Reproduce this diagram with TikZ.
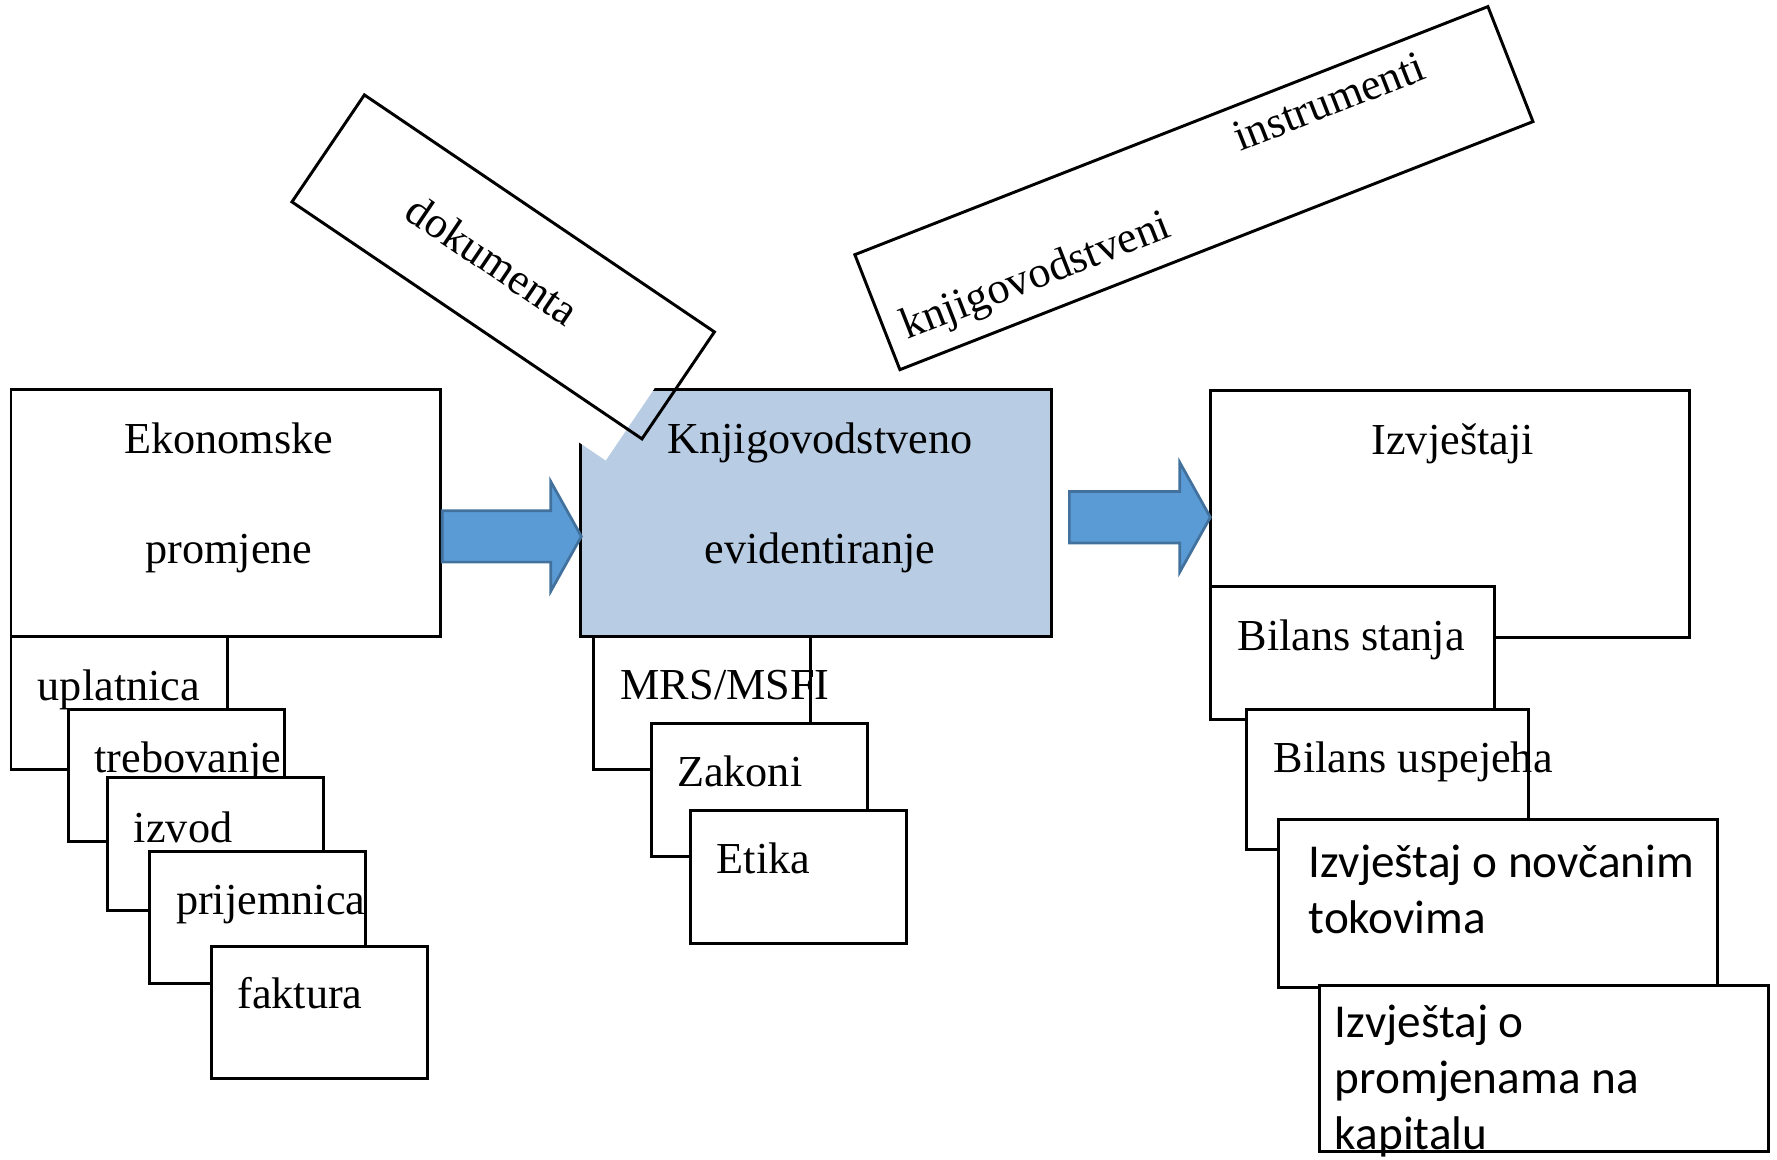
\documentclass[tikz,border=0pt]{standalone}
\usepackage{fontspec}
\setmainfont{Liberation Serif}
\newfontfamily\calfont{Carlito}
\usetikzlibrary{calc}

\newlength{\du}
\setlength{\du}{0.01cm}

\definecolor{boxblue}{RGB}{184,204,228}
\definecolor{arrowfill}{RGB}{91,155,213}
\definecolor{arrowline}{RGB}{65,113,156}

\newcommand{\serifsize}{\fontsize{11.1}{13.5}\selectfont}
\newcommand{\sanssize}{\calfont\fontsize{11.85}{14.1}\selectfont}

% block arrow from tail to tip
\newcommand{\fatarrow}[2]{%
\draw[flowarrow] ($(#1)+(0\du,-22.7\du)$)--($(#2)+(-27\du,-22.7\du)$)--($(#2)+(-27\du,-48.4\du)$)--(#2)--($(#2)+(-27\du,48.4\du)$)--($(#2)+(-27\du,22.7\du)$)--($(#1)+(0\du,22.7\du)$)--cycle;}

\tikzset{
  docbox/.style={draw, fill=white, line width=2.6\du, anchor=north west, inner sep=0pt},
  smallbox/.style={docbox, minimum width=190.8\du, minimum height=116.8\du},
  tiltbox/.style={draw, line width=2.6\du, inner sep=0pt, font=\serifsize},
  lbl/.style={inner sep=0pt, anchor=base west, font=\serifsize},
  sanslbl/.style={inner sep=0pt, anchor=base west, align=left, font=\sanssize},
  flowarrow/.style={fill=arrowfill, draw=arrowline, line width=2.4\du, line join=miter},
}

\begin{document}
\begin{tikzpicture}
\pgftransformxscale{1.000000}
\pgftransformyscale{-1.000000}
\useasboundingbox (0\du,0\du) rectangle (1568\du,1023\du);
% ekonomske promjene
\node[docbox, minimum width=379.2\du, minimum height=218.3\du] (ekon) at (8.4\du,342.4\du) {};
\node[lbl, anchor=base, align=center, font={\fontsize{11.1}{27.6}\selectfont}] (ekontxt) at (202\du,497\du) {Ekonomske\\promjene};
\node[smallbox] (upl) at (8.4\du,560.7\du) {};
\node[lbl] (upltxt) at (32.7\du,618\du) {uplatnica};
\node[smallbox] (treb) at (59.1\du,624.7\du) {};
\node[lbl] (trebtxt) at (82.8\du,682\du) {trebovanje};
\node[smallbox] (izvod) at (93.5\du,685\du) {};
\node[lbl] (izvodtxt) at (117.5\du,743\du) {izvod};
\node[smallbox] (prij) at (130.3\du,749.7\du) {};
\node[lbl] (prijtxt) at (154.7\du,807\du) {prijemnica};
\node[smallbox] (fakt) at (185\du,833.6\du) {};
\node[lbl] (fakttxt) at (208.7\du,890\du) {faktura};
% knjigovodstveno evidentiranje
\node[docbox, fill=boxblue, minimum width=415.2\du, minimum height=218.1\du] (knjig) at (511.3\du,342.5\du) {};
\node[lbl, anchor=base, align=center, font={\fontsize{11.1}{27.4}\selectfont}] (knjigtxt) at (723.5\du,496.9\du) {Knjigovodstveno\\evidentiranje};
\node[smallbox] (mrs) at (522.8\du,560.6\du) {};
\node[lbl] (mrstxt) at (546.9\du,617.6\du) {MRS/MSFI};
\node[smallbox] (zak) at (573.4\du,637.3\du) {};
\node[lbl] (zaktxt) at (596.7\du,694.3\du) {Zakoni};
\node[smallbox] (etika) at (607.8\du,714\du) {};
\node[lbl] (etikatxt) at (631.9\du,771.1\du) {Etika};
% dokumenta
\node[fill=white, inner sep=0pt, rotate=-34.1, minimum width=373\du, minimum height=114\du] (dokshade) at (412\du,254.5\du) {};
\node[tiltbox, rotate=-34.1, minimum width=373\du, minimum height=114\du] (dok) at (444\du,235.5\du) {dokumenta\hspace*{22\du}};
% izvjestaji
\node[docbox, minimum width=423\du, minimum height=217.8\du] (izv) at (1066.5\du,343.2\du) {};
\node[lbl, anchor=base] (izvtxt) at (1281.8\du,401\du) {Izvještaji};
\node[docbox, minimum width=251.1\du, minimum height=117.5\du] (bst) at (1066.5\du,515.9\du) {};
\node[lbl] (bsttxt) at (1091.3\du,574.2\du) {Bilans stanja};
\node[docbox, minimum width=248.5\du, minimum height=123.6\du] (bus) at (1098.9\du,624.6\du) {};
\node[lbl] (bustxt) at (1123.3\du,681.6\du) {Bilans uspejeha};
\node[docbox, minimum width=387.8\du, minimum height=148.1\du] (novc) at (1126.7\du,721.9\du) {};
\node[sanslbl] (novctxt) at (1154\du,824\du) {Izvještaj o novčanim\\tokovima};
\node[docbox, minimum width=395.5\du, minimum height=146.8\du] (kap) at (1163.3\du,867.9\du) {};
\node[sanslbl] (kaptxt) at (1177.2\du,1014.5\du) {Izvještaj o\\promjenama na\\kapitalu};
% knjigovodstveni instrumenti
\node[tiltbox, fill=white, rotate=21.4, minimum width=600\du, minimum height=109\du, align=left, text width=568\du] (instr) at (1053.5\du,166\du) {\hspace*{334\du}instrumenti\\knjigovodstveni};
% arrows
\coordinate (a1) at (0\du,473.3\du);
\coordinate (a2) at (0\du,456.4\du);
\coordinate (a1tail) at (ekon.east |- a1);
\coordinate (a1tip) at ($(knjig.west |- a1)+(1.7\du,0\du)$);
\coordinate (a2tail) at ($(knjig.east |- a2)+(14.5\du,0\du)$);
\coordinate (a2tip) at ($(izv.west |- a2)+(1.5\du,0\du)$);
\fatarrow{a1tail}{a1tip}
\fatarrow{a2tail}{a2tip}
\end{tikzpicture}
\end{document}
